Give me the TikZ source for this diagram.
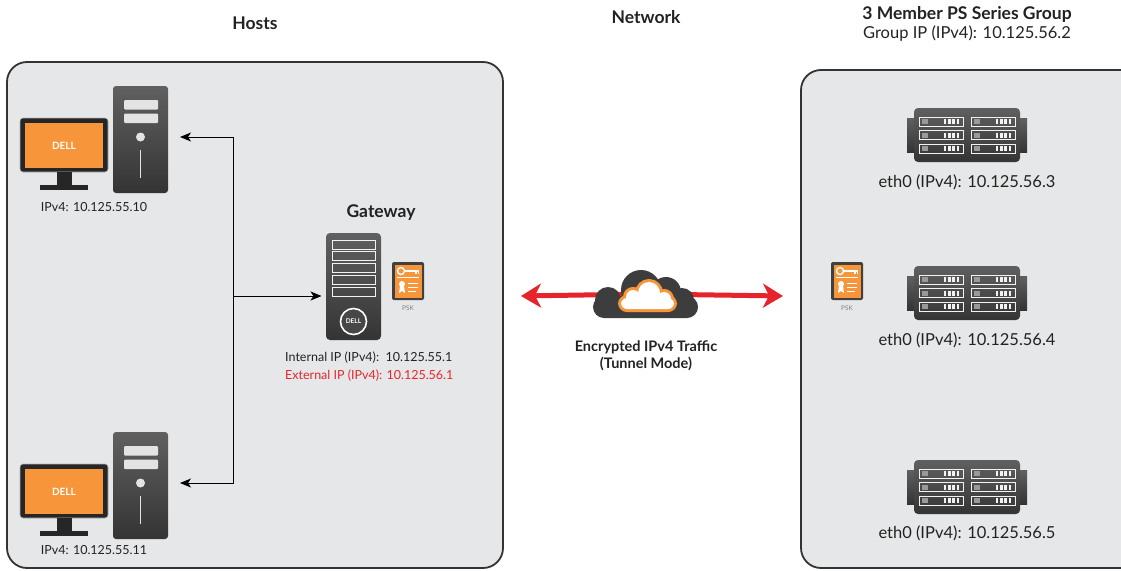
\documentclass[tikz,border=0pt]{standalone}
\usepackage{fontspec}
\setmainfont{Lato}
\usetikzlibrary{arrows.meta,calc}
\definecolor{panelgray}{HTML}{E6E7E8}
\definecolor{edgegray}{HTML}{333333}
\definecolor{boxtop}{HTML}{606060}
\definecolor{boxbottom}{HTML}{343434}
\definecolor{dellorange}{HTML}{F6953A}
\definecolor{linkred}{HTML}{E5252B}
\definecolor{iptext}{HTML}{222222}
\tikzset{
 panel/.style={draw=edgegray,line width=1.8pt,fill=panelgray,rounded corners=20pt},
 heading/.style={font=\fontsize{17.5}{20}\selectfont\bfseries,inner sep=0,text=iptext},
 iplabel/.style={font=\fontsize{12.5}{15}\selectfont,inner sep=0,text=iptext},
 memberlabel/.style={font=\fontsize{16.5}{19}\selectfont,inner sep=0,text=iptext},
 darkbox/.style={top color=boxtop,bottom color=boxbottom,draw=none,inner sep=0},
 lightbar/.style={fill=gray!22,rounded corners=1pt},
 slot/.style={draw=white!90!gray,line width=1pt},
 hostlink/.style={line width=1pt,-{Stealth[length=11pt,width=9pt,inset=3pt]}},
 tunnel/.style={linkred,line width=5pt,-{Stealth[length=20pt,width=24pt,inset=6pt]}},
 desktop/.pic={
  \node[darkbox,rounded corners=3pt,minimum width=55pt,minimum height=107pt] (-tower) at (0,0) {};
  \path[lightbar] (-16.5,-39.5) rectangle (17.5,-30);
  \path[lightbar] (-16.5,-26) rectangle (17.5,-16.5);
  \fill[gray!22] (0,-2.5) circle (4.5);
  \draw[gray!22,line width=1.8pt] (0,10.5) -- (0,38.5);
  \node[fill=black!85,draw=gray!60,line width=.6pt,rounded corners=3pt,minimum width=88pt,minimum height=54pt,inner sep=0] (-screen) at (-76.5,5.5) {};
  \fill[dellorange] (-115.5,-16.5) rectangle (-37.5,28.5);
  \node[text=white,font=\fontsize{10}{10}\selectfont\bfseries,inner sep=0] (-logo) at (-76.5,6) {DELL};
  \fill[black!85] (-84,32.5) rectangle (-69,45);
  \fill[black!85] (-100.5,45.5) rectangle (-52.5,50);
  \coordinate (-port) at (39.5,-2.5);
 },
 gwtower/.pic={
  \node[darkbox,rounded corners=4pt,minimum width=55pt,minimum height=107pt] (-tower) at (0,0) {};
  \foreach \s in {0,...,4}
   \draw[slot] (-21.5,-46.5+11.75*\s) rectangle ++(43,9);
  \draw[white,line width=1.6pt,fill=black!72] (0,35) circle (13);
  \node[text=white,font=\fontsize{6.5}{7}\selectfont\bfseries,inner sep=0] (-logo) at (0,35) {DELL};
  \coordinate (-in) at (-32,9.5);
 },
 pskcard/.pic={
  \node[fill=black!75,rounded corners=2pt,minimum width=32pt,minimum height=38pt,inner sep=0] (-card) at (0,0) {};
  \fill[dellorange] (-13.5,-16.5) rectangle (13.5,16.5);
  \draw[white,line width=1.4pt] (-7,-10) circle (3.5);
  \draw[white,line width=1.6pt] (-3.5,-10) -- (11,-10);
  \draw[white,line width=1.2pt] (8,-10) -- (8,-7) (10.5,-10) -- (10.5,-7.5);
  \draw[white,line width=1pt] (-11,-4) -- (11,-4) (0,2) -- (10,2) (0,6) -- (10,6) (0,10) -- (8,10);
  \fill[white] (-6,3) circle (3);
  \fill[white] (-8,5) -- (-9,12) -- (-6,10) -- (-3,12) -- (-4,5) -- cycle;
  \node[text=gray,font=\fontsize{6.5}{7}\selectfont,inner sep=0] (-label) at (0,27) {PSK};
 },
 array/.pic={
  \path[darkbox] (-60,-17) rectangle (60,17);
  \node[darkbox,rounded corners=4pt,minimum width=106pt,minimum height=54pt] (-body) at (0,0) {};
  \foreach \row in {-18,-4.5,9}
   \foreach \col in {-48,4} {
    \draw[white!90!gray,line width=.9pt] (\col,\row) rectangle ++(44,9);
    \fill[gray!80] (\col+3,\row+2) rectangle ++(6,5);
    \foreach \b in {0,...,3}
     \fill[white!90!gray] (\col+25+\b*4.2,\row+2) rectangle ++(2.4,5);
   }
 }
}

\begin{document}
\begin{tikzpicture}[x=1pt,y=-1pt]
\useasboundingbox (0,0) rectangle (1121,570);
\draw[panel] (7,62) rectangle (503,568);
\draw[panel] (801,70) rectangle (1150,568);

\node[heading] (hosts) at (255,23) {Hosts};
\node[heading] (network) at (646,17) {Network};
\node[heading] (group) at (967,14) {3 Member PS Series Group};
\node[memberlabel] (groupip) at (967,34) {Group IP (IPv4): 10.125.56.2};

% hosts
\pic (hostA) at (140.5,139.5) {desktop};
\pic (hostB) at (140.5,485.5) {desktop};
\node[iplabel] (hostA-ip) at (94,207) {IPv4: 10.125.55.10};
\node[iplabel] (hostB-ip) at (94,550) {IPv4: 10.125.55.11};

% gateway
\node[heading] (gwtitle) at (381,213) {Gateway};
\pic (gw) at (353.5,286.5) {gwtower};
\pic (gwkey) at (408,281) {pskcard};
\node[iplabel,anchor=west] (gw-int) at (285,358) {Internal IP (IPv4):\ \ 10.125.55.1};
\node[iplabel,anchor=west,text=linkred] (gw-ext) at (285,376) {External IP (IPv4): 10.125.56.1};

\coordinate (split) at (233,296);
\draw[hostlink] (split) |- (hostA-port);
\draw[hostlink] (split) |- (hostB-port);
\draw[hostlink] (split) -- (gw-in);

% tunnel through the cloud
\coordinate (cloud) at (646,294);
\coordinate (tunnelL) at (521,296);
\coordinate (tunnelR) at (783,296);
\draw[tunnel] (cloud) -- (tunnelL);
\draw[tunnel] (cloud) -- (tunnelR);
\begin{scope}[shift={(cloud)}]
 \fill[black!76,rounded corners=11pt] (-53,2) rectangle (52,24);
 \fill[black!76] (-38,6) circle (13) (-5,-4) circle (20) (20,-2) circle (15) (36,6) circle (12);
 \begin{scope}[dellorange,line width=6pt]
  \draw[rounded corners=6pt] (-25,4) rectangle (28,15);
  \draw (-13,3) circle (7) (3,-1) circle (11) (18,5) circle (7);
 \end{scope}
 \fill[white,rounded corners=6pt] (-25,4) rectangle (28,15);
 \fill[white] (-13,3) circle (7) (3,-1) circle (11) (18,5) circle (7);
\end{scope}
\node[font=\fontsize{14.5}{17}\selectfont\bfseries,inner sep=0,text=iptext] (traffic) at (646,347) {Encrypted IPv4 Traffic};
\node[font=\fontsize{14.5}{17}\selectfont\bfseries,inner sep=0,text=iptext] (mode) at (646,364) {(Tunnel Mode)};

% group members
\pic (grpkey) at (847,281) {pskcard};
\pic (m1) at (967,135) {array};
\pic (m2) at (967,293) {array};
\pic (m3) at (967,487) {array};
\node[memberlabel] (m1-ip) at (967,182) {eth0 (IPv4): 10.125.56.3};
\node[memberlabel] (m2-ip) at (967,340) {eth0 (IPv4): 10.125.56.4};
\node[memberlabel] (m3-ip) at (967,533) {eth0 (IPv4): 10.125.56.5};
\end{tikzpicture}
\end{document}
